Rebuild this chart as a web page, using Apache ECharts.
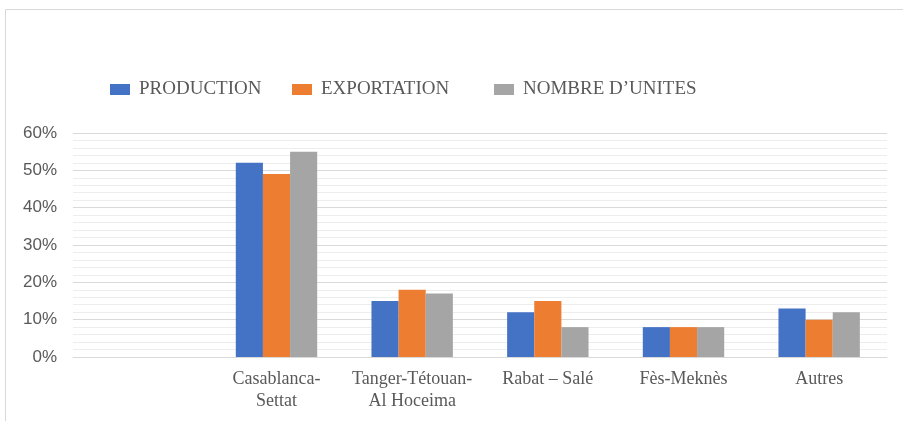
<!DOCTYPE html>
<html>
<head>
<meta charset="utf-8">
<script src="https://cdn.jsdelivr.net/npm/echarts@6/dist/echarts.min.js"></script>
<style>
  html, body { margin: 0; padding: 0; background: #fff; }
  #chart { width: 903px; height: 421px; }
</style>
</head>
<body>
<div id="chart"></div>
<script>
  // regions (first slot is empty in the original chart)
  var categories = ['', 'Casablanca-\nSettat', 'Tanger-Tétouan-\nAl Hoceima', 'Rabat – Salé', 'Fès-Meknès', 'Autres'];
  var production = ['-', 52, 15, 12, 8, 13];
  var exportation = ['-', 49, 18, 15, 8, 10];
  var unites = ['-', 55, 17, 8, 8, 12];
  var seriesNames = ['PRODUCTION', 'EXPORTATION', 'NOMBRE D\u2019UNITES'];

  var labelColor = '#595959';
  var serif = '"Liberation Serif", "DejaVu Serif", serif';

  var chart = echarts.init(document.getElementById('chart'));

  function bar(name, data, color) {
    return {
      name: name,
      type: 'bar',
      data: data,
      barGap: '0%',
      barCategoryGap: '40%',
      itemStyle: { color: color },
      emphasis: { disabled: true }
    };
  }

  // one legend per item so the uneven spacing of the original can be kept
  function legendItem(name, left) {
    return {
      left: left,
      top: 75,
      itemWidth: 20,
      itemHeight: 11,
      icon: 'rect',
      textStyle: {
        color: labelColor,
        fontFamily: serif,
        fontSize: 19,
        padding: [0, 0, 0, 4]
      },
      data: [name]
    };
  }

  chart.setOption({
    animation: false,
    backgroundColor: '#fff',
    graphic: [{
      type: 'rect',
      shape: { x: 5.5, y: 9.5, width: 920, height: 430 },
      style: { fill: 'none', stroke: '#d9d9d9', lineWidth: 1 },
      silent: true
    }],
    legend: [
      legendItem(seriesNames[0], 105),
      legendItem(seriesNames[1], 287),
      legendItem(seriesNames[2], 489)
    ],
    grid: {
      left: 73,
      right: 16,
      top: 133,
      bottom: 64
    },
    xAxis: {
      type: 'category',
      data: categories,
      axisTick: { show: false },
      axisLine: { lineStyle: { color: '#d9d9d9' } },
      axisLabel: {
        color: labelColor,
        fontFamily: serif,
        fontSize: 18,
        lineHeight: 22,
        margin: 11,
        interval: 0
      }
    },
    yAxis: {
      type: 'value',
      min: 0,
      max: 60,
      interval: 10,
      axisLine: { show: false },
      axisTick: { show: false },
      axisLabel: {
        color: labelColor,
        fontFamily: '"Liberation Sans", Arial, sans-serif',
        fontSize: 17,
        margin: 16,
        formatter: '{value}%'
      },
      splitLine: { lineStyle: { color: '#d9d9d9', width: 1 } },
      minorTick: { show: false, splitNumber: 5 },
      minorSplitLine: { show: true, lineStyle: { color: '#ededed', width: 1 } }
    },
    series: [
      bar(seriesNames[0], production, '#4472C4'),
      bar(seriesNames[1], exportation, '#ED7D31'),
      bar(seriesNames[2], unites, '#A5A5A5')
    ]
  });
</script>
</body>
</html>
